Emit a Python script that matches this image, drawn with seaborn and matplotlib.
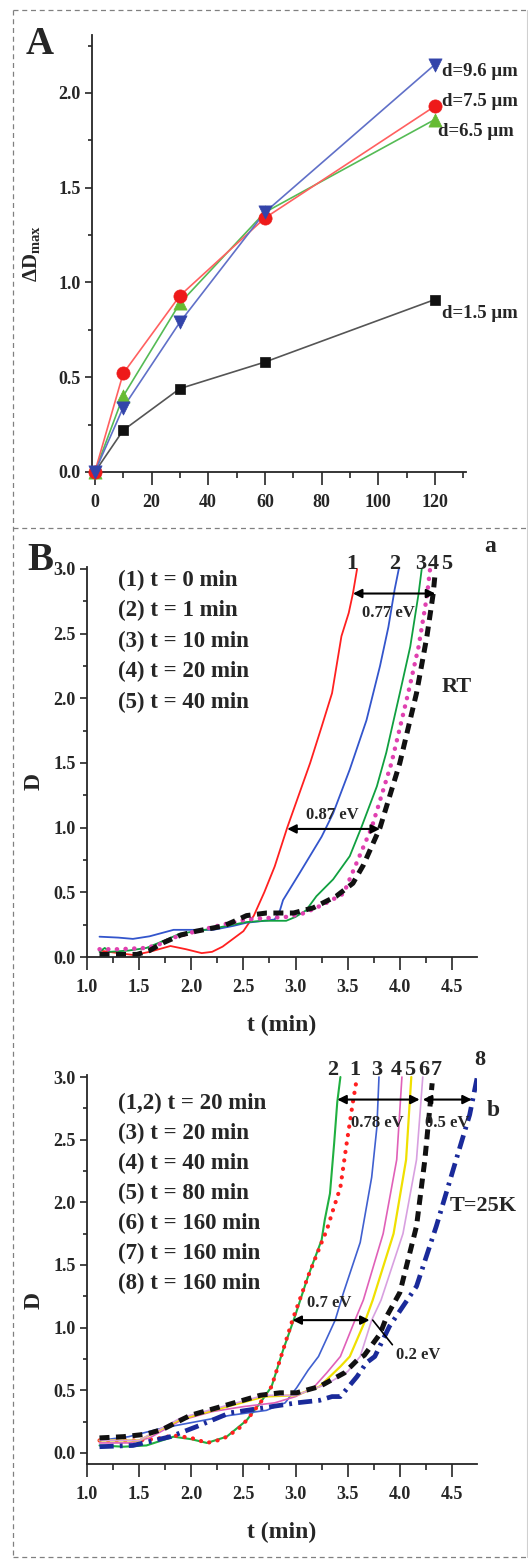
import numpy as np
import pandas as pd
import matplotlib
matplotlib.use("Agg")
import matplotlib.pyplot as plt
import seaborn as sns
from matplotlib.lines import Line2D
from matplotlib.ticker import MultipleLocator, FormatStrFormatter

# ---------------- Panel A data ----------------
a_time = [0, 10, 30, 60, 120]
a_d15 = [0.0, 0.22, 0.44, 0.58, 0.91]
a_d65 = [0.0, 0.40, 0.89, 1.37, 1.86]
a_d75 = [0.0, 0.52, 0.93, 1.34, 1.93]
a_d96 = [0.0, 0.34, 0.79, 1.37, 2.15]
a_labels = ["d=9.6 μm", "d=7.5 μm", "d=6.5 μm", "d=1.5 μm"]

# ---------------- Panel B(a) data (RT) ----------------
ba_t1 = [1.12, 1.3, 1.45, 1.6, 1.8, 1.95, 2.1, 2.2, 2.3, 2.4, 2.5, 2.6, 2.7, 2.8, 2.92, 3.03, 3.14, 3.25, 3.35, 3.44, 3.51, 3.55, 3.59]
ba_d1 = [0.05, 0.03, 0.015, 0.04, 0.085, 0.06, 0.03, 0.04, 0.08, 0.14, 0.2, 0.32, 0.5, 0.7, 1.0, 1.25, 1.5, 1.78, 2.04, 2.48, 2.66, 2.81, 3.0]
ba_t2 = [1.12, 1.3, 1.44, 1.6, 1.83, 2.0, 2.21, 2.4, 2.53, 2.7, 2.8, 2.85, 2.88, 3.04, 3.25, 3.36, 3.52, 3.68, 3.81, 3.89, 3.95, 3.99]
ba_d2 = [0.157, 0.15, 0.14, 0.16, 0.21, 0.21, 0.21, 0.24, 0.265, 0.28, 0.29, 0.36, 0.44, 0.65, 0.93, 1.11, 1.45, 1.83, 2.25, 2.55, 2.84, 3.0]
ba_t3 = [1.12, 1.17, 1.22, 1.4, 1.57, 1.75, 1.89, 2.05, 2.21, 2.4, 2.53, 2.7, 2.91, 3.0, 3.1, 3.2, 3.36, 3.52, 3.63, 3.78, 3.87, 4.0, 4.1, 4.18, 4.21]
ba_d3 = [0.04, 0.07, 0.04, 0.05, 0.07, 0.13, 0.18, 0.2, 0.22, 0.25, 0.27, 0.28, 0.28, 0.31, 0.36, 0.47, 0.6, 0.78, 1.0, 1.32, 1.58, 2.04, 2.4, 2.81, 3.0]
ba_t4 = [1.12, 1.3, 1.57, 1.7, 1.83, 2.05, 2.3, 2.53, 2.7, 2.91, 3.05, 3.17, 3.3, 3.46, 3.65, 3.73, 3.92, 4.08, 4.18, 4.26, 4.29]
ba_d4 = [0.06, 0.06, 0.07, 0.1, 0.15, 0.2, 0.25, 0.29, 0.3, 0.31, 0.33, 0.37, 0.42, 0.49, 0.85, 1.0, 1.5, 2.04, 2.4, 2.79, 3.0]
ba_t5 = [1.12, 1.3, 1.48, 1.6, 1.73, 1.9, 2.05, 2.31, 2.45, 2.53, 2.72, 2.98, 3.17, 3.39, 3.55, 3.65, 3.81, 4.0, 4.16, 4.26, 4.32, 4.34]
ba_d5 = [0.02, 0.02, 0.02, 0.05, 0.11, 0.17, 0.2, 0.24, 0.29, 0.32, 0.34, 0.34, 0.38, 0.47, 0.57, 0.71, 1.0, 1.5, 2.04, 2.48, 2.81, 2.98]
ba_legend = ["(1) t = 0 min", "(2) t = 1 min", "(3) t = 10 min", "(4) t = 20 min", "(5) t = 40 min"]

# ---------------- Panel B(b) data (T=25K) ----------------
bb_t1 = [1.12, 1.3, 1.45, 1.65, 1.83, 2.0, 2.15, 2.3, 2.45, 2.53, 2.67, 2.77, 2.88, 2.97, 3.12, 3.25, 3.30, 3.36, 3.43, 3.49, 3.55, 3.59]
bb_d1 = [0.1, 0.1, 0.1, 0.11, 0.14, 0.12, 0.08, 0.11, 0.19, 0.26, 0.41, 0.53, 0.82, 1.06, 1.41, 1.68, 1.78, 1.94, 2.12, 2.47, 2.8, 3.0]
bb_t2 = [1.12, 1.35, 1.57, 1.83, 2.0, 2.15, 2.34, 2.53, 2.67, 2.77, 2.88, 2.99, 3.12, 3.25, 3.28, 3.33, 3.37, 3.40, 3.43]
bb_d2 = [0.06, 0.05, 0.06, 0.13, 0.11, 0.08, 0.13, 0.26, 0.41, 0.53, 0.82, 1.08, 1.41, 1.70, 1.86, 2.07, 2.47, 2.80, 3.0]
bb_t3 = [1.12, 1.4, 1.73, 2.05, 2.37, 2.72, 2.9, 3.01, 3.12, 3.22, 3.38, 3.46, 3.62, 3.73, 3.78, 3.80]
bb_d3 = [0.1, 0.13, 0.2, 0.25, 0.3, 0.34, 0.4, 0.52, 0.66, 0.77, 1.06, 1.28, 1.68, 2.2, 2.6, 3.0]
bb_t4 = [1.12, 1.4, 1.6, 1.9, 2.2, 2.5, 2.8, 3.0, 3.17, 3.3, 3.43, 3.57, 3.65, 3.84, 3.97, 4.02]
bb_d4 = [0.08, 0.08, 0.12, 0.26, 0.33, 0.37, 0.40, 0.45, 0.52, 0.64, 0.77, 1.06, 1.22, 1.75, 2.34, 3.0]
bb_t5 = [1.12, 1.5, 1.9, 2.3, 2.7, 3.0, 3.23, 3.43, 3.52, 3.67, 3.74, 3.94, 4.06, 4.11]
bb_d5 = [0.1, 0.1, 0.27, 0.36, 0.45, 0.46, 0.53, 0.69, 0.77, 1.06, 1.22, 1.75, 2.34, 3.0]
bb_t6 = [1.12, 1.5, 1.9, 2.3, 2.7, 3.0, 3.3, 3.5, 3.62, 3.73, 3.82, 4.03, 4.16, 4.22]
bb_d6 = [0.1, 0.1, 0.28, 0.37, 0.46, 0.46, 0.55, 0.65, 0.77, 1.06, 1.22, 1.75, 2.34, 3.0]
bb_t7 = [1.12, 1.35, 1.57, 1.73, 1.99, 2.37, 2.66, 2.85, 3.01, 3.23, 3.47, 3.59, 3.66, 3.81, 3.88, 4.0, 4.16, 4.24, 4.27, 4.31]
bb_d7 = [0.12, 0.13, 0.15, 0.19, 0.30, 0.39, 0.46, 0.48, 0.48, 0.53, 0.64, 0.74, 0.78, 0.95, 1.1, 1.28, 1.81, 2.34, 2.6, 2.95]
bb_t8 = [1.12, 1.44, 1.8, 2.05, 2.37, 2.69, 3.01, 3.23, 3.35, 3.43, 3.59, 3.68, 3.76, 3.90, 4.16, 4.35, 4.54, 4.67, 4.74]
bb_d8 = [0.05, 0.06, 0.13, 0.21, 0.32, 0.36, 0.40, 0.42, 0.45, 0.45, 0.61, 0.72, 0.77, 1.01, 1.33, 1.81, 2.34, 2.7, 2.99]
bb_legend = ["(1,2) t = 20 min", "(3) t = 20 min", "(4) t = 40 min", "(5) t = 80 min",
             "(6) t = 160 min", "(7) t = 160 min", "(8) t = 160 min"]

# ---------------- Styling ----------------
sns.set_theme(style="ticks")
plt.rcParams['font.family'] = ['Liberation Serif', 'DejaVu Serif']
plt.rcParams['font.weight'] = 'bold'
plt.rcParams['axes.labelweight'] = 'bold'
plt.rcParams['mathtext.fontset'] = 'custom'
plt.rcParams['mathtext.rm'] = 'Liberation Serif:bold'
plt.rcParams['mathtext.bf'] = 'Liberation Serif:bold'
plt.rcParams['mathtext.it'] = 'Liberation Serif:bold'
plt.rcParams['axes.linewidth'] = 1.3
plt.rcParams['lines.solid_joinstyle'] = 'round'

W, H = 528, 1560
fig = plt.figure(figsize=(W / 100, H / 100), dpi=100)
fig.patch.set_facecolor('white')


def rect(l, t, r, b):
    return [l / W, 1 - b / H, (r - l) / W, (b - t) / H]


def ftext(x, y, s, **kw):
    kw.setdefault('ha', 'center')
    kw.setdefault('va', 'center')
    kw.setdefault('fontweight', 'bold')
    fig.text(x / W, 1 - y / H, s, **kw)


def style_axes(ax, xmaj, xmin, ymaj, ymin, xfmt, yfmt):
    sns.despine(ax=ax)
    ax.xaxis.set_major_locator(MultipleLocator(xmaj))
    ax.xaxis.set_minor_locator(MultipleLocator(xmin))
    ax.yaxis.set_major_locator(MultipleLocator(ymaj))
    ax.yaxis.set_minor_locator(MultipleLocator(ymin))
    ax.xaxis.set_major_formatter(FormatStrFormatter(xfmt))
    ax.yaxis.set_major_formatter(FormatStrFormatter(yfmt))
    ax.tick_params(axis='x', which='major', direction='out', length=9, width=1.2, pad=7, labelsize=13)
    ax.tick_params(axis='x', which='minor', direction='out', length=4.5, width=1.2)
    ax.tick_params(axis='y', which='major', direction='out', length=5, width=1.2, pad=3, labelsize=13)
    ax.tick_params(axis='y', which='minor', direction='out', length=3, width=1.2)
    for lab in ax.get_xticklabels() + ax.get_yticklabels():
        lab.set_fontweight('bold')
    ax.set_facecolor('white')
    ax.grid(False)


# ---------------- Panel A ----------------
axA = fig.add_axes(rect(92, 35, 466, 472))
seriesA = [
    (a_d15, '#555555', '#111111', 's', 55),
    (a_d65, '#55bb55', '#66bb33', '^', 90),
    (a_d75, '#ff6060', '#ee1a1a', 'o', 90),
    (a_d96, '#6070c8', '#3344aa', 'v', 90),
]
for vals, lc, mc, mk, ms in seriesA:
    sns.lineplot(x=a_time, y=vals, ax=axA, color=lc, lw=1.2, sort=False, estimator=None)
for vals, lc, mc, mk, ms in seriesA:
    sns.scatterplot(x=a_time, y=vals, ax=axA, color=mc, marker=mk, s=ms, edgecolor=mc,
                    linewidth=0.5, zorder=5, clip_on=False)
axA.set_xlim(-1, 131)
axA.set_ylim(0, 2.306)
style_axes(axA, 20, 10, 0.5, 0.25, '%d', '%.1f')
axA.set_xlabel('')
axA.set_ylabel(r'$\Delta\mathbf{D}_{\mathbf{max}}$', fontsize=15)
axA.yaxis.set_label_coords(-0.135, 0.5)

ftext(442, 72, a_labels[0], ha='left', fontsize=13.5)
ftext(442, 102, a_labels[1], ha='left', fontsize=13.5)
ftext(438, 132, a_labels[2], ha='left', fontsize=13.5)
ftext(442, 313, a_labels[3], ha='left', fontsize=13.5)
ftext(40, 45, 'A', fontsize=28)

# ---------------- Panel B(a) ----------------
axBa = fig.add_axes(rect(87, 567, 477, 957))
sns.lineplot(x=ba_t1, y=ba_d1, ax=axBa, color='#ff2020', lw=1.3, sort=False, estimator=None)
sns.lineplot(x=ba_t2, y=ba_d2, ax=axBa, color='#3355cc', lw=1.3, sort=False, estimator=None)
sns.lineplot(x=ba_t3, y=ba_d3, ax=axBa, color='#10a040', lw=1.3, sort=False, estimator=None)
sns.lineplot(x=ba_t4, y=ba_d4, ax=axBa, color='#e040b0', lw=3.2, sort=False, estimator=None,
             linestyle=(0, (0.05, 1.9)), dash_capstyle='round')
sns.lineplot(x=ba_t5, y=ba_d5, ax=axBa, color='#111111', lw=3.6, sort=False, estimator=None,
             linestyle=(0, (2.0, 1.3)))
axBa.set_xlim(1.0, 4.74)
axBa.set_ylim(0, 3.015)
style_axes(axBa, 0.5, 0.25, 0.5, 0.25, '%.1f', '%.1f')
axBa.set_xlabel('t (min)', fontsize=17, fontweight='bold')
axBa.set_ylabel('D', fontsize=17, fontweight='bold')
axBa.xaxis.set_label_coords(0.5, -0.148)
axBa.yaxis.set_label_coords(-0.108, 0.45)

arrow = dict(arrowstyle='<|-|>', color='black', lw=1.5, mutation_scale=13, shrinkA=0, shrinkB=0)
axBa.annotate('', xy=(4.34, 2.81), xytext=(3.55, 2.81), arrowprops=arrow)
axBa.annotate('', xy=(3.81, 0.99), xytext=(2.92, 0.99), arrowprops=arrow)
ftext(388, 613, '0.77 eV', fontsize=12)
ftext(332, 815, '0.87 eV', fontsize=12)

for i, s in enumerate(ba_legend):
    ftext(118, 580 + i * 30.5, s, ha='left', fontsize=16.5)
for s, x in zip(['1', '2', '3', '4', '5'], [352, 395, 421, 433, 447]):
    ftext(x, 564, s, fontsize=16)
ftext(490, 547, 'a', fontsize=17)
ftext(457, 687, 'RT', fontsize=16)
ftext(40, 560, 'B', fontsize=28)

# ---------------- Panel B(b) ----------------
axBb = fig.add_axes(rect(87, 1075, 477, 1464))
sns.lineplot(x=bb_t2, y=bb_d2, ax=axBb, color='#20b040', lw=1.5, sort=False, estimator=None)
sns.lineplot(x=bb_t1, y=bb_d1, ax=axBb, color='#ff2020', lw=3.0, sort=False, estimator=None,
             linestyle=(0, (0.05, 2.0)), dash_capstyle='round')
sns.lineplot(x=bb_t3, y=bb_d3, ax=axBb, color='#4060d0', lw=1.2, sort=False, estimator=None)
sns.lineplot(x=bb_t4, y=bb_d4, ax=axBb, color='#e060b8', lw=1.2, sort=False, estimator=None)
sns.lineplot(x=bb_t5, y=bb_d5, ax=axBb, color='#f0e000', lw=1.6, sort=False, estimator=None)
sns.lineplot(x=bb_t6, y=bb_d6, ax=axBb, color='#d8a0e0', lw=1.2, sort=False, estimator=None)
sns.lineplot(x=bb_t7, y=bb_d7, ax=axBb, color='#111111', lw=3.6, sort=False, estimator=None,
             linestyle=(0, (2.0, 1.3)))
sns.lineplot(x=bb_t8, y=bb_d8, ax=axBb, color='#1a2a9a', lw=3.4, sort=False, estimator=None,
             linestyle=(0, (3.0, 1.3, 0.6, 1.3)))
axBb.set_xlim(1.0, 4.74)
axBb.set_ylim(-0.088, 3.016)
style_axes(axBb, 0.5, 0.25, 0.5, 0.25, '%.1f', '%.1f')
axBb.set_xlabel('t (min)', fontsize=17, fontweight='bold')
axBb.set_ylabel('D', fontsize=17, fontweight='bold')
axBb.xaxis.set_label_coords(0.5, -0.148)
axBb.yaxis.set_label_coords(-0.108, 0.42)

axBb.annotate('', xy=(4.19, 2.82), xytext=(3.40, 2.82), arrowprops=arrow)
axBb.annotate('', xy=(4.69, 2.82), xytext=(4.22, 2.82), arrowprops=arrow)
axBb.annotate('', xy=(3.71, 1.06), xytext=(2.97, 1.06), arrowprops=arrow)
axBb.annotate('0.2 eV', xy=(3.74, 1.06), xytext=(3.96, 0.78), fontsize=12, fontweight='bold',
              ha='left', va='center',
              arrowprops=dict(arrowstyle='-', color='black', lw=1.2, shrinkA=0, shrinkB=0,
                              relpos=(0.0, 0.9)))
ftext(377, 1123, '0.78 eV', fontsize=12)
ftext(447, 1123, '0.5 eV', fontsize=12)
ftext(329, 1303, '0.7 eV', fontsize=12)

for i, s in enumerate(bb_legend):
    ftext(118, 1103 + i * 30, s, ha='left', fontsize=16.5)
for s, x in zip(['2', '1', '3', '4', '5', '6', '7'], [333, 355, 377, 396, 410, 424, 436]):
    ftext(x, 1070, s, fontsize=16)
ftext(480, 1060, '8', fontsize=16)
ftext(493, 1111, 'b', fontsize=17)
ftext(483, 1206, 'T=25K', fontsize=16)

# ---------------- Dashed frame ----------------
frame = dict(color='#808080', lw=0.9, linestyle=(0, (4, 3)), transform=fig.transFigure)
fig.add_artist(Line2D([13 / W, 1], [1 - 10 / H, 1 - 10 / H], **frame))
fig.add_artist(Line2D([13 / W, 13 / W], [1 - 10 / H, 1 - 1557 / H], **frame))
fig.add_artist(Line2D([13 / W, 1], [1 - 528 / H, 1 - 528 / H], **frame))
fig.add_artist(Line2D([13 / W, 1], [1 - 1557 / H, 1 - 1557 / H], **frame))
fig.add_artist(Line2D([526.5 / W, 526.5 / W], [1 - 10 / H, 1 - 1557 / H], color='#d0d0d0', lw=0.8,
                      transform=fig.transFigure))

fig.savefig('out.png', dpi=100, facecolor='white')
